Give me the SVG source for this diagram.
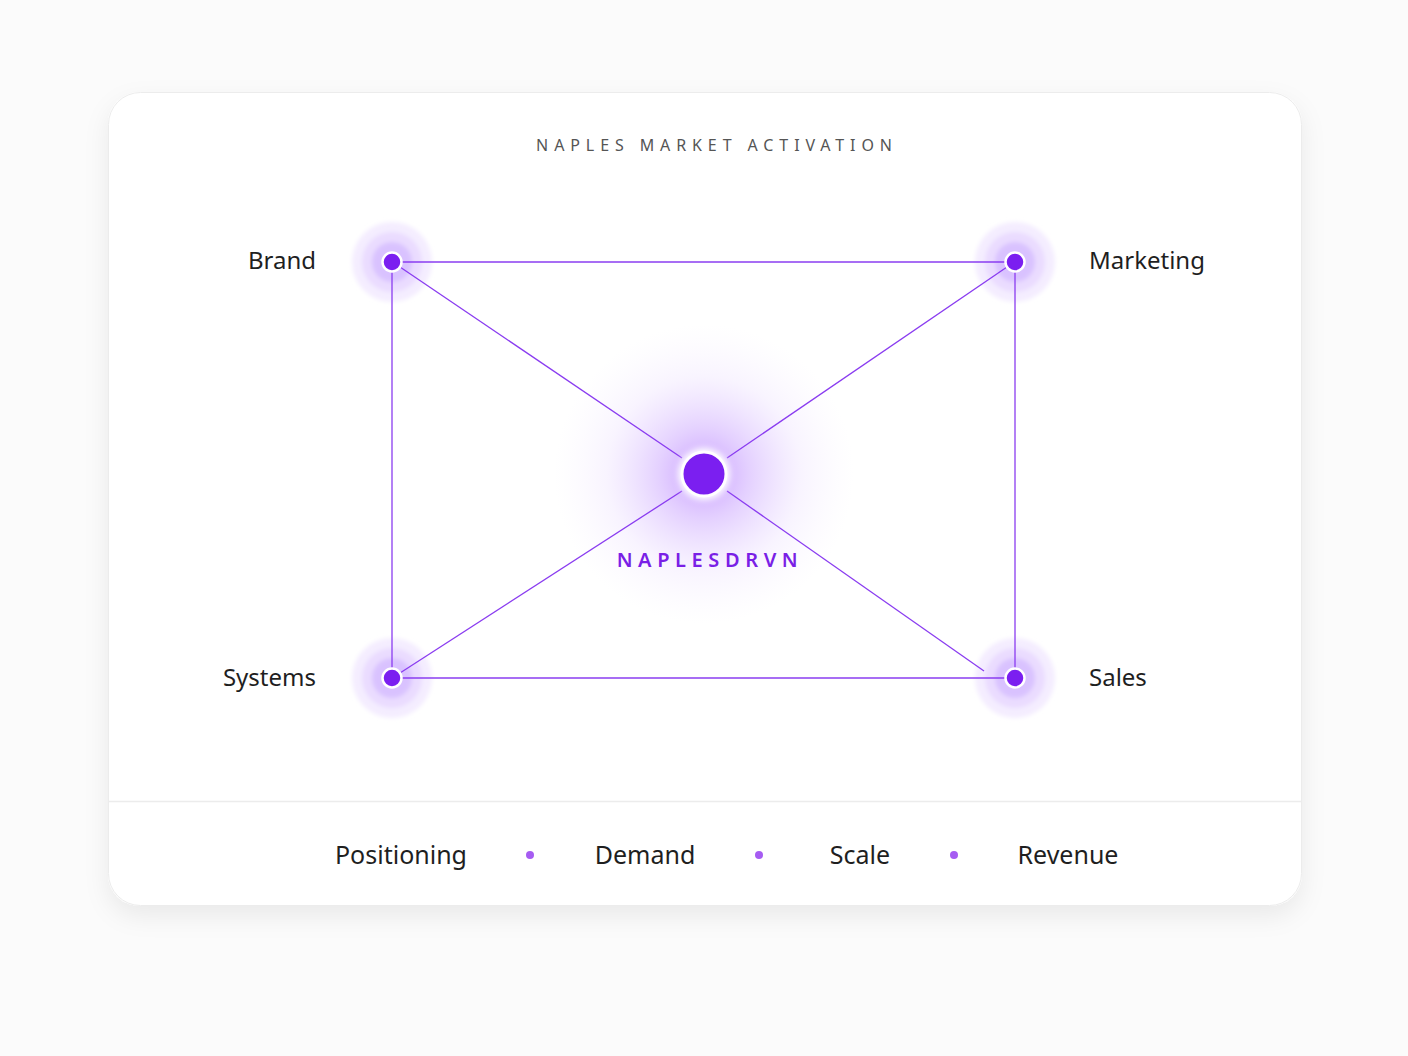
<svg xmlns="http://www.w3.org/2000/svg" width="1408" height="1056" viewBox="0 0 1408 1056">
<defs>
<filter id="shadow" x="-10%" y="-10%" width="120%" height="130%">
<feDropShadow dx="0" dy="10" stdDeviation="12" flood-color="#000" flood-opacity="0.07"/>
</filter>
<radialGradient id="glow" cx="0.5" cy="0.5" r="0.5">
<stop offset="0" stop-color="#a35cff" stop-opacity="0.6"/>
<stop offset="0.3" stop-color="#b27aff" stop-opacity="0.35"/>
<stop offset="0.65" stop-color="#c9a3ff" stop-opacity="0.12"/>
<stop offset="1" stop-color="#e0ccff" stop-opacity="0"/>
</radialGradient>
<filter id="soft" x="-50%" y="-50%" width="200%" height="200%">
<feGaussianBlur stdDeviation="2"/>
</filter>
<filter id="cglow" x="-50%" y="-50%" width="200%" height="200%">
<feGaussianBlur stdDeviation="3"/>
</filter>
<g id="halo">
<circle r="40" fill="#f4edff"/>
<circle r="30" fill="#eadcff"/>
<circle r="20" fill="#d9c2ff"/>
</g>
</defs>
<style>
.lbl{font-family:"Noto Sans","Liberation Sans",sans-serif;font-size:24px;fill:#1f1f1f}
.foot{font-family:"Noto Sans","Liberation Sans",sans-serif;font-size:25px;fill:#1f1f1f;text-anchor:middle}
.title{font-family:"Noto Sans","Liberation Sans",sans-serif;font-size:16px;fill:#555;letter-spacing:5.9px;text-anchor:middle}
.brand{font-family:"Noto Sans","Liberation Sans",sans-serif;font-size:20px;font-weight:600;fill:#7a1fe6;letter-spacing:5.6px;text-anchor:middle}
.edge{stroke:#8a3cf0;stroke-width:1.3;fill:none}
.dot{fill:#7b1ff0;stroke:#fff;stroke-width:2.5}
.sep{fill:#a65cf2}
.halo{filter:url(#soft)}
</style>
<rect width="1408" height="1056" fill="#fbfbfb"/>
<g id="card">
<rect x="108" y="92" width="1194" height="814" rx="32" fill="#fff" filter="url(#shadow)"/>
<rect x="108.5" y="92.5" width="1193" height="813" rx="32" fill="none" stroke="#ececec" stroke-width="1"/>
<line x1="108" y1="801.5" x2="1302" y2="801.5" stroke="#ececec" stroke-width="1.5"/>
</g>
<g id="title"><text class="title" x="717" y="151">NAPLES MARKET ACTIVATION</text></g>
<circle cx="704" cy="474" r="150" fill="url(#glow)"/>
<use href="#halo" x="392" y="262" class="halo"/>
<use href="#halo" x="1015" y="262" class="halo"/>
<use href="#halo" x="392" y="678" class="halo"/>
<use href="#halo" x="1015" y="678" class="halo"/>
<g id="connectors">
<line class="edge" x1="401" y1="262" x2="1006" y2="262"/>
<line class="edge" x1="401" y1="678" x2="1006" y2="678"/>
<line class="edge" x1="392" y1="271" x2="392" y2="669"/>
<line class="edge" x1="1015" y1="271" x2="1015" y2="669"/>
<line class="edge" x1="400" y1="267" x2="682" y2="458"/>
<line class="edge" x1="1007" y1="267" x2="727" y2="458"/>
<line class="edge" x1="400" y1="673" x2="682" y2="491"/>
<line class="edge" x1="984" y1="671" x2="727" y2="491"/>
</g>
<g id="center">
<circle cx="704" cy="474" r="26" fill="#fff" filter="url(#cglow)"/>
<circle cx="704" cy="474" r="22" fill="#7b1ff0" stroke="#fff" stroke-width="3"/>
<text class="brand" x="710" y="567">NAPLESDRVN</text>
</g>
<g id="brand">
<circle class="dot" cx="392" cy="262" r="9.5"/>
<text class="lbl" x="316" y="269" text-anchor="end">Brand</text>
</g>
<g id="marketing">
<circle class="dot" cx="1015" cy="262" r="9.5"/>
<text class="lbl" x="1089" y="269">Marketing</text>
</g>
<g id="systems">
<circle class="dot" cx="392" cy="678" r="9.5"/>
<text class="lbl" x="316" y="686" text-anchor="end">Systems</text>
</g>
<g id="sales">
<circle class="dot" cx="1015" cy="678" r="9.5"/>
<text class="lbl" x="1089" y="686">Sales</text>
</g>
<g id="footer">
<text class="foot" x="401" y="864">Positioning</text>
<circle class="sep" cx="530" cy="855" r="4"/>
<text class="foot" x="645" y="864">Demand</text>
<circle class="sep" cx="759" cy="855" r="4"/>
<text class="foot" x="860" y="864">Scale</text>
<circle class="sep" cx="954" cy="855" r="4"/>
<text class="foot" x="1068" y="864">Revenue</text>
</g>
</svg>
